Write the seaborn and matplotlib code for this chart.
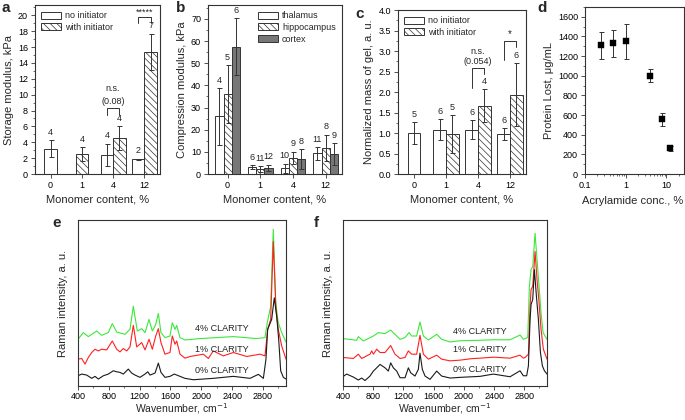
import matplotlib
matplotlib.use("Agg")
import matplotlib.pyplot as plt
import numpy as np
import seaborn as sns
from matplotlib.patches import Patch
from matplotlib.ticker import MultipleLocator, FixedLocator, NullFormatter, LogLocator

sns.set_theme(style="ticks")
plt.rcParams["font.family"] = ["Liberation Sans", "DejaVu Sans"]
plt.rcParams["hatch.linewidth"] = 0.5
plt.rcParams["hatch.color"] = "#333333"

nan = np.nan

# ---- panel a: storage modulus
monomer = ["0", "1", "4", "12"]
storage_no = [3.2, nan, 2.4, 1.85]
storage_no_err = [1.1, nan, 1.4, 0.1]
storage_no_n = [4, None, 4, 2]
storage_with = [nan, 2.5, 4.5, 15.4]
storage_with_err = [nan, 0.9, 1.5, 2.3]
storage_with_n = [None, 4, 4, 7]

# ---- panel b: compression modulus by tissue
tissues = ["thalamus", "hippocampus", "cortex"]
comp_thal = [26.0, 3.0, 2.6, 9.3]
comp_thal_err = [12.8, 0.9, 2.0, 2.9]
comp_thal_n = [4, 6, 10, 11]
comp_hippo = [36.0, 2.2, 7.3, 11.8]
comp_hippo_err = [13.2, 1.4, 2.7, 6.0]
comp_hippo_n = [5, 11, 9, 8]
comp_cortex = [57.5, 2.8, 6.8, 9.1]
comp_cortex_err = [12.8, 1.4, 4.5, 4.9]
comp_cortex_n = [6, 12, 8, 9]

# ---- panel c: normalized mass of gel
mass_no = [1.0, 1.08, 1.08, 0.98]
mass_no_err = [0.26, 0.26, 0.23, 0.14]
mass_no_n = [5, 6, 6, 6]
mass_with = [nan, 0.97, 1.67, 1.93]
mass_with_err = [nan, 0.46, 0.40, 0.77]
mass_with_n = [None, 5, 4, 6]

# ---- panel d: protein lost
acryl = [0.25, 0.5, 1, 4, 8, 12]
protein = [1310, 1330, 1350, 1000, 555, 262]
protein_err = [138, 140, 180, 68, 70, 28]

# ---- panel e: Raman spectra (offset traces)
e_wn_0 = [400, 448, 513, 578, 621, 664, 729, 793, 858, 902, 945, 988, 1053, 1097, 1140, 1205, 1270, 1305,
          1335, 1400, 1443, 1477, 1529, 1594, 1650, 1724, 1789, 1897, 2156, 2416, 2633, 2741, 2806, 2840,
          2862, 2914, 2948, 2979, 3005, 3031, 3066, 3100]
e_int_0 = [10.3, 12, 11, 7.7, 9.7, 7, 10.3, 12, 15.3, 14.3, 13.7, 12, 17, 13, 11, 8.7, 12, 14.3, 11, 13,
           23, 13.7, 8.7, 9.7, 12, 9.7, 7.7, 6.3, 7.7, 9.7, 7.7, 11.7, 7.7, 27, 57, 67, 88.7, 70.3, 47, 15.3,
           8.7, 7]
e_wn_1 = [400, 448, 491, 534, 578, 621, 664, 707, 772, 845, 902, 945, 988, 1032, 1075, 1118, 1162, 1227,
          1270, 1322, 1365, 1409, 1443, 1477, 1529, 1594, 1624, 1659, 1681, 1724, 1789, 1854, 2027, 2092,
          2156, 2286, 2416, 2590, 2762, 2827, 2862, 2901, 2935, 2970, 3000, 3044, 3100]
e_int_1 = [27, 27.7, 22, 28.7, 33.7, 37, 35.3, 37, 36.3, 45.3, 37, 34.3, 37.7, 35.3, 39.3, 61, 39.3, 43.7,
           36.3, 47, 37, 50.3, 57.7, 43.7, 32, 33.7, 50.3, 42, 45.3, 32, 28, 29.7, 32, 27.7, 35.3, 30.3,
           33.7, 29.7, 32, 30.3, 57, 67, 145.3, 77, 57, 40.3, 27]
e_wn_4 = [400, 469, 534, 643, 707, 793, 845, 902, 1010, 1075, 1118, 1170, 1227, 1270, 1322, 1365, 1409,
          1443, 1477, 1529, 1594, 1624, 1659, 1681, 1724, 1789, 1984, 2416, 2720, 2827, 2857, 2901, 2935,
          2966, 3000, 3044, 3100]
e_int_4 = [47, 53.7, 49.7, 55.3, 51, 53.7, 62.7, 54.3, 52, 57, 80.3, 55.3, 57.7, 53.7, 67, 55.3, 62, 73,
           53.7, 48.7, 50.3, 63.7, 57, 61, 48.7, 46.3, 47.7, 49.7, 47.7, 48.7, 63.7, 80, 157.7, 83.7, 63.7,
           53.7, 44.3]

# ---- panel f: Raman spectra (offset traces)
f_wn_0 = [400, 449, 537, 603, 647, 691, 757, 802, 846, 890, 956, 1000, 1031, 1066, 1111, 1155, 1221, 1265,
          1296, 1353, 1397, 1419, 1450, 1486, 1552, 1640, 1706, 1817, 1949, 2214, 2390, 2611, 2743, 2787,
          2831, 2854, 2876, 2889, 2911, 2933, 2960, 2986, 3013, 3039, 3066, 3100]
f_int_0 = [9.5, 12, 9, 6, 8, 5.5, 10, 15, 18.3, 21.7, 18.3, 15, 23.3, 18.3, 15, 8.3, 8.3, 18.3, 13.3, 10,
           16.7, 33, 16.7, 10, 6.7, 15, 10, 8, 8.7, 9.7, 12, 9.3, 15.3, 10.3, 10.3, 20.3, 67, 82, 87, 117,
           90.3, 67, 33.7, 20.3, 15.3, 12]
f_wn_1 = [400, 537, 603, 647, 757, 780, 802, 846, 890, 956, 1031, 1088, 1155, 1221, 1265, 1309, 1375, 1419,
          1464, 1530, 1640, 1706, 1817, 1949, 2100, 2214, 2390, 2611, 2743, 2787, 2810, 2854, 2876, 2889,
          2911, 2942, 2968, 2995, 3021, 3052, 3100]
f_int_1 = [28.7, 27.7, 32, 27.7, 32, 35.3, 32, 37, 33.7, 33.7, 40.7, 32, 27.7, 28.7, 35.3, 32, 32, 51, 32,
           27, 31, 27, 25.3, 26, 27.5, 28, 29, 28, 31, 28, 28.7, 32, 80.3, 97, 100.3, 135.3, 107, 83.7, 57,
           37, 27]
f_wn_4 = [400, 581, 603, 669, 802, 868, 956, 1031, 1088, 1155, 1221, 1274, 1309, 1375, 1419, 1464, 1530,
          1640, 1706, 1817, 1949, 2214, 2390, 2611, 2743, 2787, 2845, 2867, 2889, 2911, 2942, 2968, 2995,
          3021, 3048, 3100]
f_int_4 = [47.7, 46, 49.7, 45.3, 50.3, 53.7, 52.7, 56.3, 52, 47, 48.7, 53.7, 50.3, 50.3, 64.3, 50.3, 46.3,
           52, 47, 44.3, 45.5, 46, 46.5, 46.5, 51.3, 47, 48.7, 100.3, 117, 120.3, 153.7, 127, 100.3, 73.7,
           53.7, 47]

spectra_labels = ["0% CLARITY", "1% CLARITY", "4% CLARITY"]

EDGE = "#333333"
LABEL_FS = 8
W, H = 685, 420
fig = plt.figure(figsize=(W / 100, H / 100), dpi=100)


def px_axes(left, top, right, bottom):
    return fig.add_axes([left / W, 1 - bottom / H, (right - left) / W, (bottom - top) / H])


def style_axes(ax, pad=2):
    for sp in ax.spines.values():
        sp.set_visible(True)
        sp.set_color(EDGE)
        sp.set_linewidth(0.8)
    ax.tick_params(which="major", labelsize=6.5, length=3, width=0.6, pad=pad, colors=EDGE, labelcolor="black")
    ax.tick_params(which="minor", length=1.6, width=0.5, colors=EDGE)


def grouped_bars(ax, series, width, ylim_top):
    # series: list of (values, errors, counts, facecolor, hatch)
    for i in range(len(monomer)):
        present = [s for s in series if not np.isnan(s[0][i])]
        k = len(present)
        for j, (vals, errs, ns, fc, hatch) in enumerate(present):
            x = i + (j - (k - 1) / 2) * width
            ax.bar(x, vals[i], width, facecolor=fc, edgecolor=EDGE, linewidth=0.7, hatch=hatch, zorder=2)
            ax.errorbar(x, vals[i], yerr=errs[i], color=EDGE, lw=0.7, capsize=1.8, capthick=0.7, zorder=3)
            ax.text(x, vals[i] + errs[i] + 0.02 * ylim_top, str(ns[i]), ha="center", va="bottom", fontsize=6.5)
    ax.set_xticks(range(len(monomer)))
    ax.set_xticklabels(monomer)


def bracket(ax, x0, x1, top, left_low, right_low):
    ax.plot([x0, x0, x1, x1], [left_low, top, top, right_low], color=EDGE, lw=0.7)


def bar_legend(ax, handles, loc):
    ax.legend(handles=handles, loc=loc, frameon=False, fontsize=6.5, handlelength=2.2, handleheight=0.8,
              borderaxespad=0.3, labelspacing=0.3, handletextpad=0.4)


HATCH = "\\\\\\\\\\"

# ---------------- a
ax = px_axes(35, 5, 160, 174)
grouped_bars(ax, [(storage_no, storage_no_err, storage_no_n, "white", None),
                  (storage_with, storage_with_err, storage_with_n, "white", HATCH)], 0.4, 21.3)
ax.set_xlim(-0.5, 3.5)
ax.set_ylim(0, 21.3)
ax.yaxis.set_major_locator(MultipleLocator(2))
ax.yaxis.set_minor_locator(MultipleLocator(1))
ax.set_ylabel("Storage modulus, kPa", fontsize=LABEL_FS, labelpad=3)
ax.set_xlabel("Monomer content, %", fontsize=LABEL_FS, labelpad=3)
bracket(ax, 1.8, 2.2, 8.3, 7.4, 7.4)
ax.text(2.0, 10.2, "n.s.", ha="center", va="bottom", fontsize=6.5)
ax.text(2.0, 8.6, "(0.08)", ha="center", va="bottom", fontsize=6.5)
bracket(ax, 2.8, 3.2, 19.8, 19.0, 19.0)
ax.text(3.0, 19.85, "*****", ha="center", va="bottom", fontsize=6.5)
bar_legend(ax, [Patch(facecolor="white", edgecolor=EDGE, lw=0.7, label="no initiator"),
                Patch(facecolor="white", edgecolor=EDGE, lw=0.7, hatch=HATCH, label="with initiator")],
           "upper left")
style_axes(ax)

# ---------------- b
ax = px_axes(208, 5, 342, 174)
grouped_bars(ax, [(comp_thal, comp_thal_err, comp_thal_n, "white", None),
                  (comp_hippo, comp_hippo_err, comp_hippo_n, "white", HATCH),
                  (comp_cortex, comp_cortex_err, comp_cortex_n, "#777777", None)], 0.25, 76.3)
ax.set_xlim(-0.6, 3.5)
ax.set_ylim(0, 76.3)
ax.yaxis.set_major_locator(MultipleLocator(10))
ax.yaxis.set_minor_locator(MultipleLocator(5))
ax.set_ylabel("Compression modulus, kPa", fontsize=LABEL_FS, labelpad=3)
ax.set_xlabel("Monomer content, %", fontsize=LABEL_FS, labelpad=3)
bar_legend(ax, [Patch(facecolor="white", edgecolor=EDGE, lw=0.7, label=tissues[0]),
                Patch(facecolor="white", edgecolor=EDGE, lw=0.7, hatch=HATCH, label=tissues[1]),
                Patch(facecolor="#777777", edgecolor=EDGE, lw=0.7, label=tissues[2])],
           "upper right")
style_axes(ax)

# ---------------- c
ax = px_axes(398, 10, 526, 174)
grouped_bars(ax, [(mass_no, mass_no_err, mass_no_n, "white", None),
                  (mass_with, mass_with_err, mass_with_n, "white", HATCH)], 0.4, 4.0)
ax.set_xlim(-0.5, 3.5)
ax.set_ylim(0, 4.0)
ax.yaxis.set_major_locator(MultipleLocator(0.5))
ax.yaxis.set_minor_locator(MultipleLocator(0.25))
ax.set_ylabel("Normalized mass of gel, a. u.", fontsize=LABEL_FS, labelpad=3)
ax.set_xlabel("Monomer content, %", fontsize=LABEL_FS, labelpad=3)
bracket(ax, 1.8, 2.2, 2.58, 2.09, 2.44)
ax.text(2.0, 2.88, "n.s.", ha="center", va="bottom", fontsize=6.5)
ax.text(2.0, 2.64, "(0.054)", ha="center", va="bottom", fontsize=6.5)
bracket(ax, 2.8, 3.2, 3.25, 2.78, 3.1)
ax.text(3.0, 3.28, "*", ha="center", va="bottom", fontsize=7)
bar_legend(ax, [Patch(facecolor="white", edgecolor=EDGE, lw=0.7, label="no initiator"),
                Patch(facecolor="white", edgecolor=EDGE, lw=0.7, hatch=HATCH, label="with initiator")],
           "upper left")
style_axes(ax)

# ---------------- d
ax = px_axes(585, 7, 684, 174)
ax.errorbar(acryl, protein, yerr=protein_err, fmt="none", ecolor=EDGE, lw=0.7, capsize=1.8, capthick=0.7)
sns.scatterplot(x=acryl, y=protein, ax=ax, marker="s", s=14, color="black", edgecolor="black", zorder=3)
ax.set_xscale("log")
ax.set_xlim(0.1, 27)
ax.set_ylim(0, 1700)
ax.xaxis.set_major_locator(FixedLocator([0.1, 1, 10]))
ax.set_xticklabels(["0.1", "1", "10"])
ax.xaxis.set_minor_locator(LogLocator(subs=np.arange(2, 10)))
ax.xaxis.set_minor_formatter(NullFormatter())
ax.yaxis.set_major_locator(MultipleLocator(200))
ax.yaxis.set_minor_locator(MultipleLocator(100))
ax.set_ylabel("Protein Lost, \u03bcg/mL", fontsize=LABEL_FS, labelpad=3)
ax.set_xlabel("Acrylamide conc., %", fontsize=LABEL_FS, labelpad=3)
ax.xaxis.set_label_coords(0.48, -0.13)
style_axes(ax)


# ---------------- e, f
def spectra_panel(ax, traces, label_x, label_ys, ylabelpad):
    for (wn, val), col in zip(traces, ["#3be83b", "#ff2020", "#1a1a1a"]):
        sns.lineplot(x=wn, y=val, ax=ax, color=col, lw=0.8, estimator=None, sort=False)
    for lab, y in zip(spectra_labels, label_ys):
        ax.text(label_x, y, lab, ha="center", va="center", fontsize=6.5, color="#222222")
    ax.set_xlim(400, 3100)
    ax.set_ylim(0, 167)
    ax.xaxis.set_major_locator(MultipleLocator(400))
    ax.xaxis.set_minor_locator(MultipleLocator(200))
    ax.set_yticks([])
    ax.set_ylabel("Raman intensity, a. u.", fontsize=LABEL_FS, labelpad=ylabelpad)
    ax.set_xlabel("Wavenumber, cm$^{-1}$", fontsize=7.5)
    ax.xaxis.set_label_coords(0.5, -0.092)
    style_axes(ax, pad=1.5)


ax = px_axes(78, 220, 286, 386)
spectra_panel(ax, [(e_wn_4, e_int_4), (e_wn_1, e_int_1), (e_wn_0, e_int_0)], 2265, [16, 37, 58], 7)
ax = px_axes(343, 220, 547, 386)
spectra_panel(ax, [(f_wn_4, f_int_4), (f_wn_1, f_int_1), (f_wn_0, f_int_0)], 2214, [16.3, 36.3, 55.3], 7)

for letter, x, y in [("a", 1, 1), ("b", 176, 1), ("c", 355, 7), ("d", 537, 1), ("e", 52, 216), ("f", 314, 216)]:
    fig.text(x / W, 1 - y / H, letter, fontsize=11, fontweight="bold", va="top", ha="left")

fig.savefig("out.png", dpi=100)
